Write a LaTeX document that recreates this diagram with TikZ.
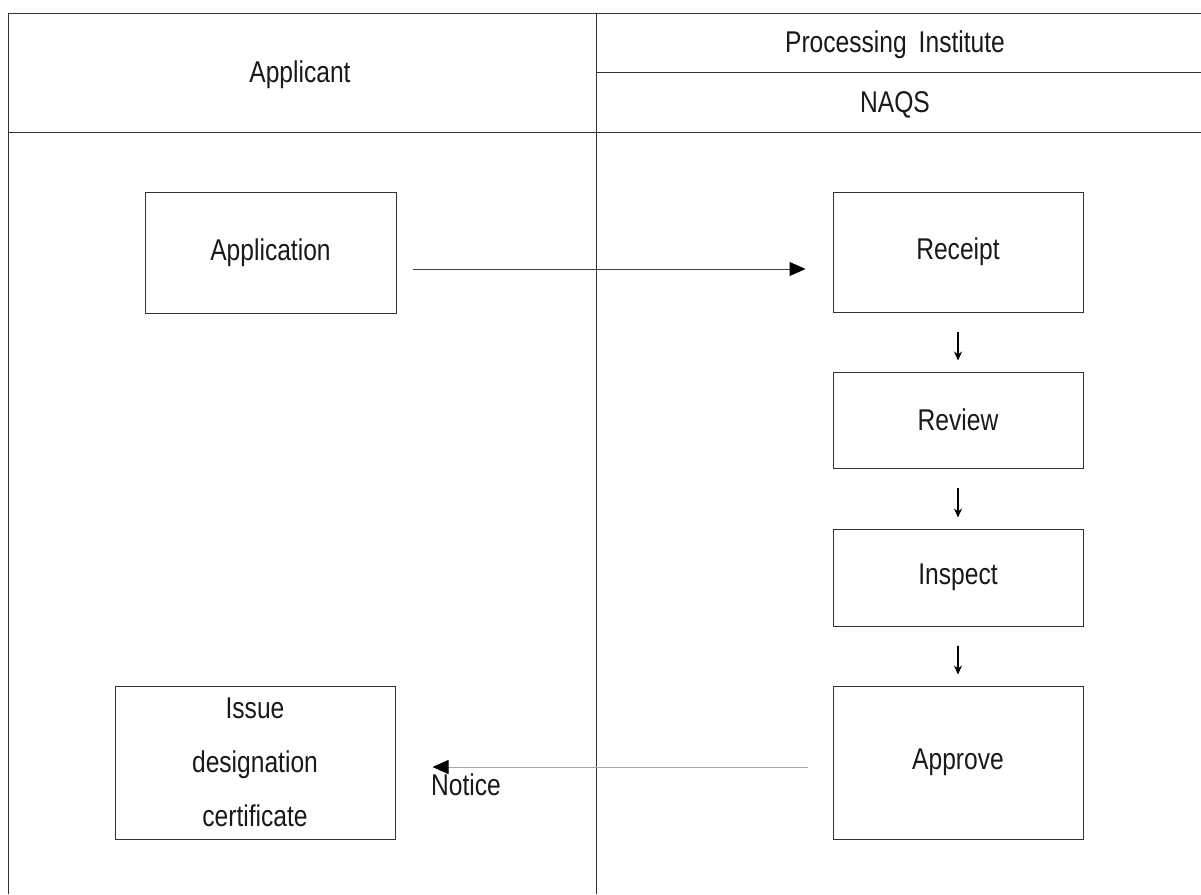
\documentclass[tikz,border=0pt]{standalone}
\usepackage{fontspec}
\setmainfont{Liberation Sans}[FakeStretch=0.82]
\usetikzlibrary{arrows.meta}
\begin{document}
\begin{tikzpicture}[x=1pt,y=-1pt,
  every node/.style={font=\fontsize{30}{36}\selectfont, text=black!90},
  frame/.style={draw=black!80, line width=1pt},
  stepbox/.style={draw=black!80, line width=1pt, inner sep=0pt, minimum width=250pt},
  flow/.style={line width=1pt, draw=black!75, -{Triangle[length=16pt,width=14pt,black]}},
  back/.style={line width=1pt, draw=black!35, -{Triangle[length=16pt,width=14pt,black]}},
  down/.style={line width=1.2pt, draw=black, -{Stealth[length=9pt,width=8pt]}, shorten <=19pt, shorten >=11pt}
]
\useasboundingbox (0,0) rectangle (1201,894);

% swimlane frame
\draw[frame] (8,894) -- (8,13) -- (1201,13);
\draw[frame] (596,13) -- (596,894);
\draw[frame] (596,72) -- (1201,72);
\draw[frame] (8,132) -- (1201,132);

% lane headings
\node (hApplicant) at (300,75) {Applicant};
\node (hInstitute) at (895,45) {Processing\hspace{12pt}Institute};
\node (hNaqs) at (895,105) {NAQS};

% process steps
\node[stepbox, minimum width=251pt, minimum height=121pt] (app) at (270.5,252.5) {Application};
\node[stepbox, minimum height=120pt] (rec) at (958,252) {Receipt};
\node[stepbox, minimum height=96pt] (rev) at (958,420) {Review};
\node[stepbox, minimum height=97pt] (ins) at (958,577.5) {Inspect};
\node[stepbox, minimum height=153pt] (apr) at (958,762.5) {Approve};
\node[stepbox, minimum width=280pt, minimum height=153pt, align=center,
      font=\fontsize{30}{54}\selectfont] (iss) at (255,762.5) {Issue\\designation\\certificate};

% connectors
\draw[flow, shorten <=16pt, shorten >=27pt] ([yshift=-16.5pt]app.east) -- ([yshift=-17pt]rec.west);
\draw[down] (rec.south) -- (rev.north);
\draw[down] (rev.south) -- (ins.north);
\draw[down] (ins.south) -- (apr.north);
\draw[back, shorten <=25pt, shorten >=37pt] ([yshift=-4.5pt]apr.west) -- ([yshift=-4.5pt]iss.east |- apr.west);
\node[anchor=west, inner sep=0pt] (notice) at (431,785) {Notice};
\end{tikzpicture}
\end{document}
